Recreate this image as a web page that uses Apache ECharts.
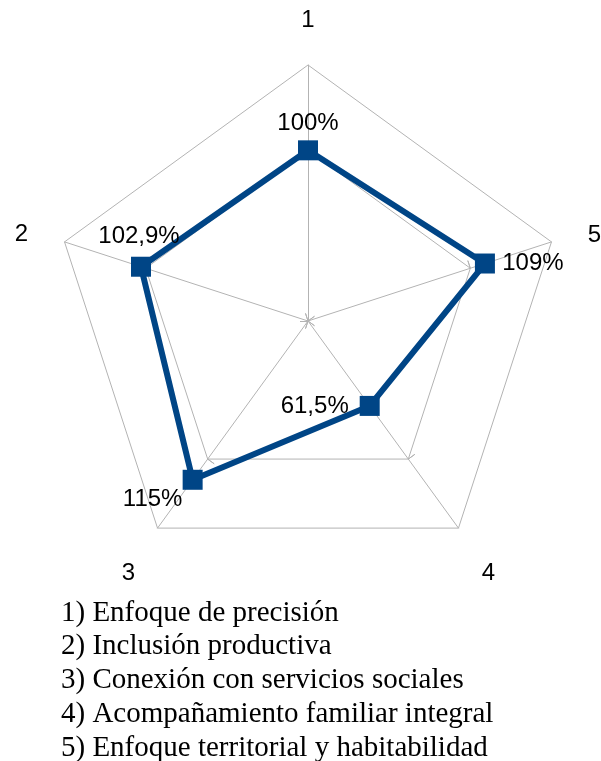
<!DOCTYPE html>
<html>
<head>
<meta charset="utf-8">
<script src="https://cdn.jsdelivr.net/npm/echarts@6/dist/echarts.min.js"></script>
<style>html,body{margin:0;padding:0;background:#fff;}#c{width:601px;height:761px;}</style>
</head>
<body>
<div id="c"></div>
<script>
// ---- data ----
var axisNames = ['1', '2', '3', '4', '5'];
var values = [100, 102.9, 115, 61.5, 109];
var axisMax = 150;
var innerRing = 100;
var legendLines = [
  '1) Enfoque de precisión',
  '2) Inclusión productiva',
  '3) Conexión con servicios sociales',
  '4) Acompañamiento familiar integral',
  '5) Enfoque territorial y habitabilidad'
];

// ---- layout / style ----
var CX = 308, CY = 321, R = 256;
var gray = '#b3b3b3';
var blue = '#004586';
var labelOffsets = [[0, -27], [-2, -30], [-40, 20], [-55, 0], [48, 0]];
// per-name padding [top, right, bottom, left] to fine tune axis name placement
var namePads = [[0, 0, 0, 0], [6, 5, 0, 0], [38, 3, 0, 0], [38, 0, 0, 4], [8, 0, 0, 5]];

function fmt(v) { return String(v).replace('.', ',') + '%'; }

var chart = echarts.init(document.getElementById('c'), null, {renderer: 'canvas'});

var mainIndicators = axisNames.map(function (n) { return {name: n, min: 0, max: axisMax}; });
var tickIndicators = axisNames.map(function (n) { return {name: n, min: 0, max: innerRing}; });

var nameRich = {};
axisNames.forEach(function (n, i) {
  nameRich['n' + i] = {fontSize: 24, fontFamily: 'Liberation Sans', color: '#000', padding: namePads[i]};
});

function tickRadar(inside) {
  return {
    center: [CX, CY],
    radius: R * innerRing / axisMax,
    startAngle: 90,
    splitNumber: 1,
    indicator: tickIndicators,
    shape: 'polygon',
    axisName: {show: false},
    axisLine: {show: false},
    splitLine: {show: false},
    splitArea: {show: false},
    axisTick: {show: true, inside: inside, length: 8, lineStyle: {color: gray, width: 1}},
    silent: true
  };
}

var labelData = values.map(function (v, k) {
  return {
    value: values,
    label: {
      show: true,
      position: [10 + labelOffsets[k][0], 10 + labelOffsets[k][1]],
      align: 'center',
      verticalAlign: 'middle',
      color: '#000',
      fontSize: 24,
      fontFamily: 'Liberation Sans',
      formatter: function (p) { return p.value === values[k] ? fmt(values[k]) : ''; }
    }
  };
});

chart.setOption({
  animation: false,
  title: {
    text: legendLines.join('\n'),
    left: 61,
    top: 596,
    padding: 0,
    textStyle: {
      fontFamily: 'Liberation Serif',
      fontWeight: 'normal',
      fontSize: 29,
      lineHeight: 33.8,
      color: '#000'
    }
  },
  radar: [{
    center: [CX, CY],
    radius: R,
    startAngle: 90,
    splitNumber: 3,
    shape: 'polygon',
    indicator: mainIndicators,
    nameGap: 33,
    axisName: {
      color: '#000', fontSize: 24, fontFamily: 'Liberation Sans',
      formatter: function (name) {
        var i = axisNames.indexOf(name);
        return '{n' + i + '|' + name + '}';
      },
      rich: nameRich
    },
    axisLine: {show: true, lineStyle: {color: gray, width: 1}},
    splitLine: {show: true, lineStyle: {color: [gray, 'transparent', gray], width: 1}},
    splitArea: {show: false},
    axisTick: {show: false},
    axisLabel: {show: false}
  }, tickRadar(false), tickRadar(true)],
  series: [{
    type: 'radar',
    radarIndex: 0,
    symbol: 'rect',
    symbolSize: 20,
    lineStyle: {color: blue, width: 6},
    itemStyle: {color: blue},
    data: [{value: values}],
    z: 3
  }, {
    type: 'radar',
    radarIndex: 0,
    symbol: 'rect',
    symbolSize: 20,
    lineStyle: {opacity: 0, width: 0},
    itemStyle: {color: 'transparent'},
    data: labelData,
    z: 4
  }]
});
</script>
</body>
</html>
